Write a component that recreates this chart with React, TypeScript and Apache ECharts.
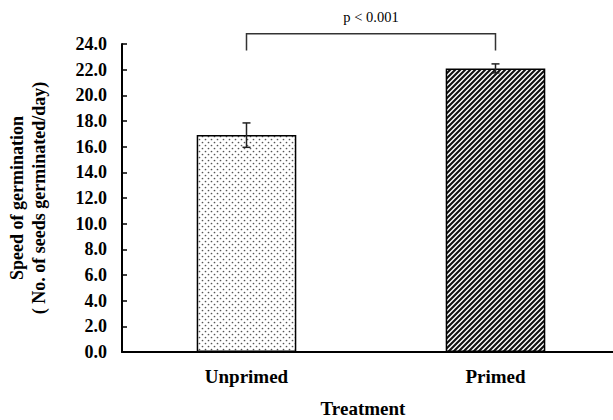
import React, { useEffect, useRef } from "react";
import * as echarts from "echarts";

const categories = ["Unprimed", "Primed"];
const means = [16.9, 22.1];
const errors = [0.95, 0.35];
const yMin = 0;
const yMax = 24;
const yInterval = 2;
const bracketTop = 24.8;
const bracketLeg = 23.5;
const pLabel = "p < 0.001";
const xTitle = "Treatment";
const yTitle = ["Speed of germination", "( No. of seeds germinated/day)"];

const FONT = "'Liberation Serif', 'Times New Roman', serif";

function dotPattern() {
  const c = document.createElement("canvas");
  c.width = 6;
  c.height = 6;
  const ctx = c.getContext("2d")!;
  ctx.fillStyle = "#ffffff";
  ctx.fillRect(0, 0, 6, 6);
  ctx.fillStyle = "#555555";
  ctx.beginPath();
  ctx.arc(1.5, 1.5, 0.85, 0, Math.PI * 2);
  ctx.arc(4.5, 4.5, 0.85, 0, Math.PI * 2);
  ctx.fill();
  return { image: c, imageWidth: 6, imageHeight: 6, repeat: "repeat" };
}

function stripePattern() {
  const s = 5;
  const c = document.createElement("canvas");
  c.width = s;
  c.height = s;
  const ctx = c.getContext("2d")!;
  ctx.fillStyle = "#ffffff";
  ctx.fillRect(0, 0, s, s);
  ctx.strokeStyle = "#111111";
  ctx.lineWidth = 2.1;
  ctx.beginPath();
  ctx.moveTo(-1, s + 1);
  ctx.lineTo(s + 1, -1);
  ctx.moveTo(-s / 2 - 1, s / 2 + 1);
  ctx.lineTo(s / 2 + 1, -s / 2 - 1);
  ctx.moveTo(s / 2 - 1, s * 1.5 + 1);
  ctx.lineTo(s * 1.5 + 1, s / 2 - 1);
  ctx.stroke();
  return { image: c, imageWidth: s, imageHeight: s, repeat: "repeat" };
}

export default function App() {
  const ref = useRef<HTMLDivElement>(null);
  useEffect(() => {
    if (!ref.current) return;
    const chart = echarts.init(ref.current, undefined, { renderer: "svg" });
    const patterns = [dotPattern(), stripePattern()];
    const option: any = {
      animation: false,
      backgroundColor: "#ffffff",
      grid: { left: 122, right: -7, top: 44, bottom: 68, containLabel: false, outerBoundsMode: "none" },
      xAxis: {
        type: "category",
        data: categories,
        boundaryGap: true,
        axisLine: { lineStyle: { color: "#000", width: 2 } },
        axisTick: { show: false },
        axisLabel: {
          fontFamily: FONT,
          fontWeight: "bold",
          fontSize: 19,
          color: "#000",
          margin: 15,
        },
        name: xTitle,
        nameLocation: "middle",
        nameGap: 47,
        nameTextStyle: {
          fontFamily: FONT,
          fontWeight: "bold",
          fontSize: 19,
          color: "#000",
          padding: [0, 16, 0, 0],
        },
      },
      yAxis: {
        type: "value",
        min: yMin,
        max: yMax,
        interval: yInterval,
        axisLine: { show: true, lineStyle: { color: "#000", width: 2 } },
        axisTick: { show: true, inside: true, length: 5, lineStyle: { color: "#000", width: 1.5 } },
        splitLine: { show: false },
        axisLabel: {
          fontFamily: FONT,
          fontWeight: "bold",
          fontSize: 18,
          color: "#000",
          margin: 15,
          formatter: (v: number) => v.toFixed(1),
        },
        name: yTitle.join("\n"),
        nameLocation: "middle",
        nameRotate: 90,
        nameGap: 72,
        nameTextStyle: {
          fontFamily: FONT,
          fontWeight: "bold",
          fontSize: 18,
          lineHeight: 22,
          color: "#000",
          align: "center",
        },
      },
      series: [
        {
          type: "bar",
          barWidth: "40%",
          data: means.map((m, i) => ({
            value: m,
            itemStyle: { color: patterns[i], borderColor: "#000", borderWidth: 1.5 },
          })),
        },
        {
          type: "custom",
          data: means.map((m, i) => [i, m - errors[i], m + errors[i]]),
          z: 5,
          renderItem: (params: any, api: any) => {
            const lo = api.coord([api.value(0), api.value(1)]);
            const hi = api.coord([api.value(0), api.value(2)]);
            const w = 4;
            const style = { stroke: "#222", lineWidth: 1.5 };
            return {
              type: "group",
              children: [
                { type: "line", shape: { x1: lo[0], y1: lo[1], x2: hi[0], y2: hi[1] }, style },
                { type: "line", shape: { x1: lo[0] - w, y1: lo[1], x2: lo[0] + w, y2: lo[1] }, style },
                { type: "line", shape: { x1: hi[0] - w, y1: hi[1], x2: hi[0] + w, y2: hi[1] }, style },
              ],
            };
          },
        },
        {
          type: "custom",
          data: [[0, 1, bracketTop, bracketLeg]],
          clip: false,
          z: 5,
          renderItem: (params: any, api: any) => {
            const a = api.coord([api.value(0), api.value(2)]);
            const b = api.coord([api.value(1), api.value(2)]);
            const leg = api.coord([api.value(0), api.value(3)]);
            return {
              type: "group",
              children: [
                {
                  type: "polyline",
                  shape: {
                    points: [
                      [a[0], leg[1]],
                      [a[0], a[1]],
                      [b[0], b[1]],
                      [b[0], leg[1]],
                    ],
                  },
                  style: { stroke: "#333", lineWidth: 1.5, fill: null },
                },
                {
                  type: "text",
                  x: (a[0] + b[0]) / 2,
                  y: a[1] - 17,
                  style: {
                    text: pLabel,
                    fontFamily: FONT,
                    fontSize: 14.5,
                    fill: "#000",
                    align: "center",
                    verticalAlign: "middle",
                  },
                },
              ],
            };
          },
        },
      ],
    };
    chart.setOption(option);
    return () => chart.dispose();
  }, []);
  return (
    <div
      ref={ref}
      style={{ position: "fixed", left: 0, top: 0, width: 613, height: 420, background: "#fff" }}
    />
  );
}
